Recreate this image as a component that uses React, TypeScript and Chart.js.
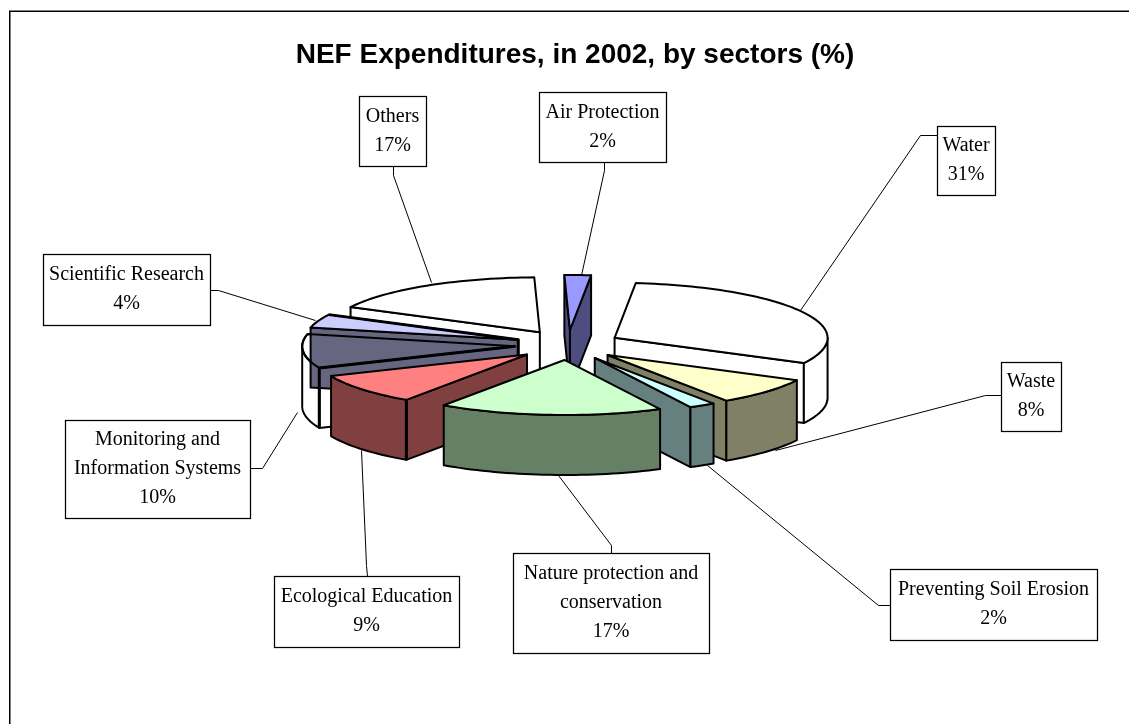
import React, { useEffect, useRef } from "react";
import { Chart, registerables } from "chart.js";

Chart.register(...registerables);

const categories = [
  "Air Protection",
  "Water",
  "Waste",
  "Preventing Soil Erosion",
  "Nature protection and conservation",
  "Ecological Education",
  "Monitoring and Information Systems",
  "Scientific Research",
  "Others",
];
const shares = [2, 31, 8, 2, 17, 9, 10, 4, 17];
const topColors = ["#9999FF", "#FFFFFF", "#FFFFCC", "#CCFFFF", "#CCFFCC", "#FF8080", "#FFFFFF", "#CCCCFF", "#FFFFFF"];
const wallColors = ["#4D4D80", "#FFFFFF", "#808066", "#668080", "#668066", "#804040", "#FFFFFF", "#666680", "#FFFFFF"];
const labelLines = [
  ["Air Protection"],
  ["Water"],
  ["Waste"],
  ["Preventing Soil Erosion"],
  ["Nature protection and", "conservation"],
  ["Ecological Education"],
  ["Monitoring and", "Information Systems"],
  ["Scientific Research"],
  ["Others"],
];

// Layout of the callouts: box [left, top, right, bottom] and leader polyline.
const boxes = [
  [539, 92, 666, 162],
  [937, 126, 995, 195],
  [1001, 362, 1061, 431],
  [890, 569, 1097, 640],
  [513, 553, 709, 653],
  [274, 576, 459, 647],
  [65, 420, 250, 518],
  [43, 254, 210, 325],
  [359, 96, 426, 166],
];
const leaders = [
  [[604, 162], [604, 170], [581, 275]],
  [[937, 135], [920, 135], [800, 310]],
  [[1001, 395], [985, 395], [775, 450]],
  [[890, 605], [878, 605], [707, 465]],
  [[611, 553], [611, 545], [558, 475]],
  [[367, 576], [366, 565], [361, 450]],
  [[250, 468], [262, 468], [297, 412]],
  [[210, 290], [218, 290], [315, 320]],
  [[393, 166], [393, 175], [431, 282]],
];

const drawOrder = [8, 0, 1, 6, 7, 2, 3, 5, 4];
const CX = 568;
const CY = 345;
const EXPLODE = 53;
const RIM_Y = 55 / 213;
const APEX_Y = 15 / 53;
const DEPTH = 60;
const SERIF = '"Liberation Serif", serif';

function geometry(arc: any) {
  const mid = (arc.startAngle + arc.endAngle) / 2;
  const ax = CX + Math.cos(mid) * EXPLODE;
  const ay = CY + Math.sin(mid) * EXPLODE * APEX_Y;
  const r = arc.outerRadius;
  const rim = (ang: number) => [ax + Math.cos(ang) * r, ay + Math.sin(ang) * r * RIM_Y];
  return { mid, ax, ay, r, rim };
}

function poly(ctx: CanvasRenderingContext2D, pts: number[][], fill?: string, close = true) {
  ctx.beginPath();
  pts.forEach((p, i) => (i ? ctx.lineTo(p[0], p[1]) : ctx.moveTo(p[0], p[1])));
  if (close) ctx.closePath();
  if (fill) {
    ctx.fillStyle = fill;
    ctx.fill();
  }
  ctx.stroke();
}

function rimPoints(g: any, a0: number, a1: number) {
  const n = Math.max(2, Math.ceil((a1 - a0) / 0.03));
  const pts: number[][] = [];
  for (let i = 0; i <= n; i++) pts.push(g.rim(a0 + ((a1 - a0) * i) / n));
  return pts;
}

function cutFace(ctx: CanvasRenderingContext2D, g: any, ang: number, fill: string) {
  const c = g.rim(ang);
  poly(ctx, [[g.ax, g.ay], c, [c[0], c[1] + DEPTH], [g.ax, g.ay + DEPTH]], fill);
}

function drawTop(ctx: CanvasRenderingContext2D, arc: any, g: any) {
  // the library's own arc fills the top face, squashed into the pie's plane
  ctx.save();
  ctx.translate(g.ax, g.ay);
  ctx.scale(1, RIM_Y);
  ctx.translate(-arc.x, -arc.y);
  arc.draw(ctx);
  ctx.restore();
}

function outlineTop(ctx: CanvasRenderingContext2D, arc: any, g: any) {
  poly(ctx, [[g.ax, g.ay], ...rimPoints(g, arc.startAngle, arc.endAngle)]);
}

const pie3d = {
  id: "pie3d",
  beforeDraw(chart: any) {
    const ctx = chart.ctx;
    ctx.save();
    ctx.fillStyle = "#fff";
    ctx.fillRect(0, 0, chart.width, chart.height);
    ctx.strokeStyle = "#000";
    ctx.lineWidth = 1.5;
    ctx.strokeRect(9.75, 11.25, chart.width + 20, chart.height + 20);
    ctx.restore();
  },
  beforeDatasetsDraw(chart: any) {
    const ctx: CanvasRenderingContext2D = chart.ctx;
    const arcs = chart.getDatasetMeta(0).data;
    ctx.save();
    ctx.lineJoin = "round";
    ctx.strokeStyle = "#000";
    ctx.lineWidth = 2;
    drawOrder.forEach((i) => {
      const arc = arcs[i];
      const g = geometry(arc);
      const s = arc.startAngle;
      const e = arc.endAngle;
      const wall = wallColors[i];
      // side faces that turn towards the viewer (chart angle: 0 = right, PI/2 = front)
      if (Math.cos(s) < 0) cutFace(ctx, g, s, wall);
      if (Math.cos(e) > 0) cutFace(ctx, g, e, wall);
      const w0 = Math.max(s, 0);
      const w1 = Math.min(e, Math.PI);
      if (w1 > w0) {
        const front = rimPoints(g, w0, w1);
        const lower = front.map((p) => [p[0], p[1] + DEPTH]).reverse();
        poly(ctx, [...front, ...lower], wall);
      }
      drawTop(ctx, arc, g);
      outlineTop(ctx, arc, g);
      if (i === 7) {
        // Monitoring's edges stay visible over Scientific Research's dark wall
        const m = arcs[6];
        const gm = geometry(m);
        const corner = gm.rim(m.startAngle);
        outlineTop(ctx, m, gm);
        ctx.lineWidth = 3;
        poly(ctx, [[g.ax, g.ay + 15], [g.ax, g.ay], g.rim(e)], undefined, false);
        poly(ctx, [[gm.ax, gm.ay], corner, [corner[0], corner[1] + DEPTH]], undefined, false);
        ctx.lineWidth = 2;
      }
      if (i === 5) {
        const corner = g.rim(s);
        ctx.lineWidth = 3;
        poly(ctx, [corner, [corner[0], corner[1] + DEPTH]], undefined, false);
        ctx.lineWidth = 2;
      }
    });
    ctx.restore();
    return false;
  },
  afterDraw(chart: any) {
    const ctx: CanvasRenderingContext2D = chart.ctx;
    ctx.save();
    ctx.strokeStyle = "#000";
    ctx.lineWidth = 1;
    leaders.forEach((l) => poly(ctx, l.map((p) => [p[0] + 0.5, p[1] + 0.5]), undefined, false));
    ctx.font = `20px ${SERIF}`;
    ctx.textAlign = "center";
    ctx.textBaseline = "middle";
    boxes.forEach((b, i) => {
      ctx.fillStyle = "#fff";
      ctx.fillRect(b[0], b[1], b[2] - b[0], b[3] - b[1]);
      ctx.lineWidth = 1.25;
      ctx.strokeRect(b[0] + 0.5, b[1] + 0.5, b[2] - b[0], b[3] - b[1]);
      const lines = [...labelLines[i], `${shares[i]}%`];
      const cx = (b[0] + b[2]) / 2;
      const cy = (b[1] + b[3]) / 2;
      ctx.fillStyle = "#000";
      lines.forEach((t, k) => ctx.fillText(t, cx, cy + (k - (lines.length - 1) / 2) * 29));
    });
    ctx.restore();
  },
};

export default function App() {
  const ref = useRef<HTMLCanvasElement>(null);
  useEffect(() => {
    const chart = new Chart(ref.current!, {
      type: "pie",
      data: {
        labels: categories,
        datasets: [
          {
            data: shares,
            backgroundColor: topColors,
            borderWidth: 0,
          },
        ],
      },
      options: {
        responsive: false,
        animation: false,
        events: [],
        rotation: -1.5,
        radius: 213,
        layout: { padding: { left: 21 } },
        plugins: {
          legend: { display: false },
          tooltip: { enabled: false },
          title: {
            display: true,
            text: "NEF Expenditures, in 2002, by sectors (%)",
            color: "#000",
            font: { family: '"Liberation Sans", sans-serif', weight: "bold", size: 28 },
            padding: { top: 38, bottom: 10 },
          },
        },
      },
      plugins: [pie3d],
    } as any);
    return () => chart.destroy();
  }, []);
  return (
    <div style={{ position: "fixed", left: 0, top: 0, width: 1129, height: 724, background: "#fff" }}>
      <canvas ref={ref} width={1129} height={724} style={{ display: "block" }} />
    </div>
  );
}
